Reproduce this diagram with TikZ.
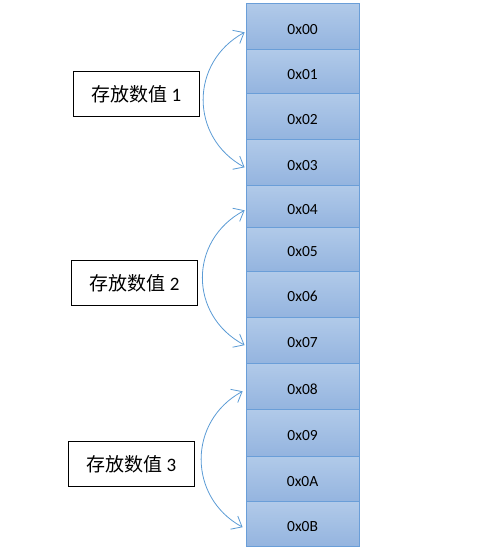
\documentclass[tikz,border=0pt]{standalone}
\usepackage{fontspec}
\setmainfont{Carlito}
\newfontfamily\cjk{Noto Sans CJK SC}
\usetikzlibrary{arrows.meta,calc}
\definecolor{cellborder}{HTML}{6A9ED8}
\definecolor{celltop}{HTML}{B1CAE9}
\definecolor{cellbot}{HTML}{94B4DF}
\definecolor{arcblue}{HTML}{5B9BD5}
\tikzset{
  cell/.style={draw=cellborder, line width=1pt, top color=celltop, bottom color=cellbot,
    minimum width=113pt, inner sep=0pt, text height=15.5pt, text depth=0pt,
    font=\fontsize{15.5}{17}\selectfont},
  labelbox/.style={draw=black, line width=0.9pt, fill=white, minimum width=126pt,
    minimum height=44.5pt, inner sep=0pt, font=\fontsize{19}{21}\selectfont},
  arc/.style={draw=arcblue, line width=0.8pt, {Straight Barb[length=9pt,width=15pt]}-{Straight Barb[length=9pt,width=15pt]}}
}
\begin{document}
\begin{tikzpicture}[x=1pt,y=-1pt]
\useasboundingbox (0,0) rectangle (491,552);
\foreach \i/\t/\b/\lab in {0/3.3/49.3/0x00, 1/49.3/93.3/0x01, 2/93.3/139.3/0x02, 3/139.3/185.3/0x03,
  4/185.3/227.3/0x04, 5/227.3/271/0x05, 6/271/317/0x06, 7/317/363.3/0x07,
  8/363.3/409.3/0x08, 9/409.3/456/0x09, 10/456/501.7/0x0A, 11/501.7/546.7/0x0B}{
  \pgfmathsetmacro{\h}{\b-\t}
  \node[cell, minimum height=\h pt] (c\i) at (302.6,{(\t+\b)/2}) {\lab};
}
\node[labelbox] (l1) at (136.3,93.8) {{\cjk 存放数值} 1};
\node[labelbox] (l2) at (134.5,283) {{\cjk 存放数值} 2};
\node[labelbox] (l3) at (131.3,463.8) {{\cjk 存放数值} 3};
\draw[arc] ($(c0.west)+(-1,6)$) .. controls +(-55,30) and +(-55,-30) .. ($(c3.west)+(-1,5)$);
\draw[arc] ($(c4.west)+(-1,4)$) .. controls +(-56,30) and +(-56,-30) .. ($(c7.west)+(-1,5)$);
\draw[arc] ($(c8.west)+(-3,5)$) .. controls +(-55,30) and +(-55,-30) .. ($(c11.west)+(-3,3)$);
\end{tikzpicture}
\end{document}
